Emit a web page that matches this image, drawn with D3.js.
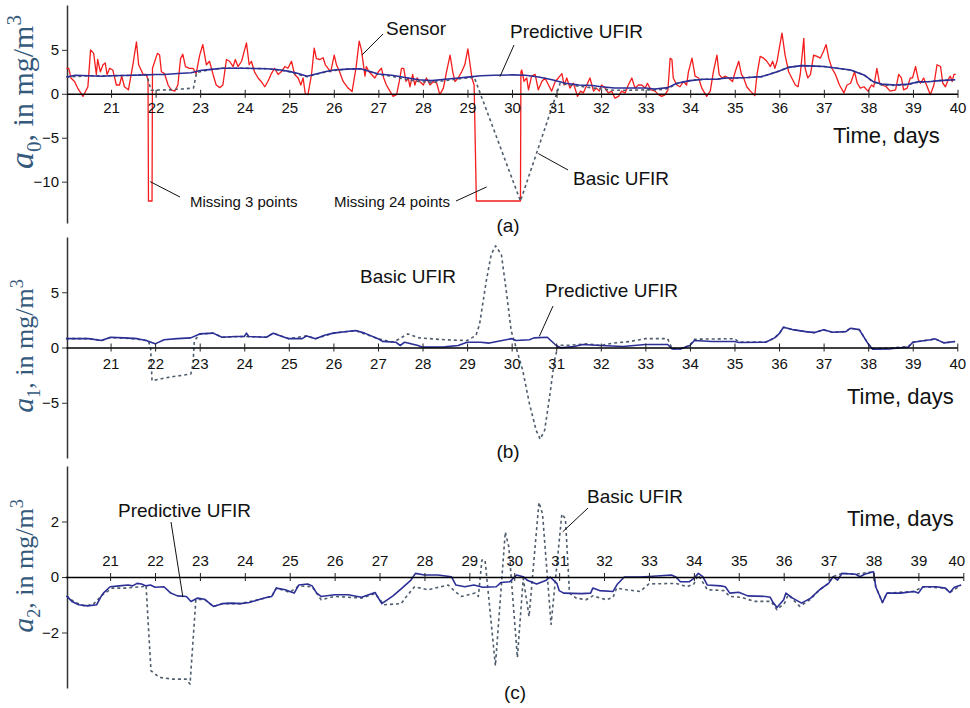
<!DOCTYPE html>
<meta charset="utf-8">
<style>
body { margin: 0; background: #fff; }
svg { font-family: "Liberation Sans", Arial, sans-serif; }
.ann { font-size: 19px; fill: #111; }
.note { font-size: 15px; fill: #111; }
.ylab { font-family: "Liberation Serif", "Times New Roman", serif; fill: #355a7c; }
.leader { stroke: #111; stroke-width: 1; fill: none; }
</style>
<body>
<script src="https://cdn.jsdelivr.net/npm/d3@7"></script>
<script>

// ---- data: [day, value] ----
var sensorA0 = [[20.0,2.9],[20.05,2.9],[20.1,1.8],[20.18,1.4],[20.25,0.65],[20.37,-0.3],[20.48,0.8],[20.54,5.0],[20.61,4.6],[20.67,2.2],[20.7,3.9],[20.76,2.5],[20.82,3.3],[20.87,3.5],[20.91,2.2],[20.97,2.9],[21.04,2.7],[21.12,1.0],[21.19,1.0],[21.24,2.0],[21.3,0.8],[21.39,0.45],[21.49,3.3],[21.57,5.9],[21.62,3.3],[21.72,2.2],[21.79,2.2],[21.83,1.6],[21.84,-12.2],[21.92,-12.2],[21.93,2.9],[22.04,4.6],[22.09,4.4],[22.13,2.5],[22.2,2.3],[22.28,1.0],[22.35,0.45],[22.43,0.3],[22.5,1.0],[22.56,4.0],[22.61,4.5],[22.67,3.1],[22.76,2.9],[22.84,2.9],[22.91,2.3],[22.99,4.4],[23.06,5.6],[23.14,3.3],[23.21,3.7],[23.29,2.2],[23.36,1.0],[23.44,0.7],[23.51,1.0],[23.59,3.9],[23.66,3.7],[23.74,3.1],[23.79,3.9],[23.85,3.1],[23.93,3.7],[24.04,5.8],[24.1,3.3],[24.15,3.7],[24.22,2.5],[24.3,1.8],[24.37,1.4],[24.45,0.8],[24.52,1.4],[24.6,2.3],[24.67,2.9],[24.75,2.2],[24.82,2.5],[24.9,3.1],[24.97,2.9],[25.05,3.7],[25.12,2.2],[25.2,1.8],[25.26,1.0],[25.31,1.8],[25.36,0.0],[25.42,-0.1],[25.5,2.2],[25.56,5.2],[25.61,4.0],[25.69,3.9],[25.76,4.1],[25.81,3.3],[25.87,2.9],[25.93,2.5],[26.01,4.4],[26.06,3.3],[26.13,2.5],[26.21,1.4],[26.32,0.65],[26.41,0.25],[26.5,3.0],[26.57,6.0],[26.62,5.0],[26.7,2.0],[26.73,3.1],[26.79,2.5],[26.85,2.2],[26.92,1.8],[27.0,2.5],[27.07,2.9],[27.12,1.8],[27.18,1.0],[27.26,0.3],[27.33,-0.3],[27.41,-0.1],[27.47,1.4],[27.52,2.9],[27.57,2.9],[27.62,1.4],[27.67,1.8],[27.71,0.8],[27.77,2.2],[27.82,1.0],[27.87,1.8],[27.93,1.4],[28.01,1.0],[28.08,1.8],[28.16,1.0],[28.23,1.4],[28.31,1.2],[28.38,-0.1],[28.46,0.65],[28.53,2.5],[28.61,4.4],[28.67,2.5],[28.72,1.4],[28.79,1.8],[28.87,2.5],[28.94,3.3],[29.01,5.1],[29.06,3.3],[29.1,1.8],[29.15,1.0],[29.2,-12.2],[30.19,-12.2],[30.2,2.5],[30.22,2.7],[30.27,1.4],[30.33,1.8],[30.37,0.45],[30.44,2.0],[30.52,2.2],[30.59,0.45],[30.67,1.4],[30.74,1.8],[30.82,1.0],[30.89,0.3],[30.97,1.4],[31.04,1.8],[31.12,2.3],[31.17,1.0],[31.23,1.8],[31.3,0.65],[31.38,1.2],[31.47,-0.3],[31.54,0.3],[31.6,0.1],[31.68,1.0],[31.75,1.8],[31.83,0.3],[31.89,0.65],[31.96,0.3],[32.01,1.0],[32.09,0.65],[32.16,0.1],[32.24,0.3],[32.31,-0.5],[32.39,-0.3],[32.46,0.3],[32.54,0.1],[32.61,1.0],[32.69,1.8],[32.76,0.65],[32.84,1.0],[32.91,1.0],[32.99,0.65],[33.04,1.2],[33.12,0.45],[33.21,0.3],[33.29,-0.1],[33.36,-0.3],[33.44,-0.1],[33.5,0.45],[33.55,4.05],[33.59,3.9],[33.62,1.8],[33.7,1.0],[33.77,0.8],[33.85,1.4],[33.92,1.0],[33.96,2.5],[34.04,4.05],[34.11,2.0],[34.19,1.8],[34.26,0.65],[34.37,-0.3],[34.45,0.3],[34.52,2.5],[34.6,4.4],[34.65,2.2],[34.71,1.8],[34.79,2.0],[34.86,1.8],[34.95,1.4],[35.01,2.5],[35.09,3.7],[35.15,2.2],[35.2,1.8],[35.27,0.8],[35.35,0.3],[35.45,-0.2],[35.5,2.2],[35.57,4.25],[35.65,4.05],[35.72,3.7],[35.8,3.1],[35.85,3.7],[35.9,2.9],[35.95,3.7],[36.0,5.2],[36.06,6.9],[36.13,4.4],[36.21,2.5],[36.28,1.8],[36.36,1.0],[36.42,0.8],[36.47,2.2],[36.55,6.3],[36.58,2.9],[36.64,1.8],[36.7,2.2],[36.77,4.4],[36.85,4.25],[36.92,4.05],[36.99,4.8],[37.05,5.6],[37.11,4.05],[37.18,2.9],[37.26,2.2],[37.35,1.0],[37.45,0.1],[37.52,1.0],[37.6,1.2],[37.69,2.5],[37.75,1.2],[37.82,0.65],[37.9,0.8],[37.99,0.3],[38.07,1.0],[38.12,0.8],[38.19,2.9],[38.25,1.2],[38.31,1.0],[38.4,0.8],[38.49,0.3],[38.61,0.45],[38.68,2.2],[38.74,1.8],[38.79,0.45],[38.87,0.65],[38.94,1.8],[38.99,1.8],[39.06,3.1],[39.12,1.6],[39.17,1.2],[39.24,1.8],[39.32,0.8],[39.39,-0.1],[39.47,1.0],[39.54,3.3],[39.62,3.1],[39.67,1.2],[39.73,0.8],[39.79,1.6],[39.84,2.0],[39.88,1.4],[39.92,2.2],[39.96,2.2]];

var predA0 = [[20.0,1.9],[20.2,2.1],[20.5,2.05],[20.8,2.0],[21.0,2.05],[21.5,2.1],[21.8,2.15],[22.0,2.2],[22.2,2.2],[22.5,2.3],[22.8,2.4],[23.0,2.65],[23.2,2.75],[23.5,2.9],[24.0,2.9],[24.5,2.85],[24.8,2.7],[25.0,2.55],[25.2,2.3],[25.4,2.0],[25.6,2.25],[25.8,2.5],[26.0,2.7],[26.3,2.8],[26.6,2.85],[26.7,2.7],[27.0,2.25],[27.3,2.1],[27.6,1.85],[27.9,1.6],[28.2,1.5],[28.5,1.65],[28.8,1.8],[29.0,1.9],[29.3,2.05],[29.6,2.1],[30.0,2.15],[30.3,2.1],[30.6,1.9],[30.9,1.6],[31.2,1.2],[31.5,1.0],[31.8,0.95],[32.0,0.8],[32.3,0.65],[32.6,0.65],[33.0,0.65],[33.2,0.55],[33.5,0.7],[33.7,1.2],[34.0,1.5],[34.3,1.65],[34.6,1.65],[34.8,1.8],[35.0,1.8],[35.3,1.85],[35.6,1.95],[35.8,2.25],[36.0,2.6],[36.2,3.0],[36.5,3.2],[36.8,3.15],[37.0,3.1],[37.3,2.9],[37.6,2.7],[37.9,2.15],[38.1,1.4],[38.3,1.1],[38.6,1.0],[38.9,1.1],[39.1,1.35],[39.4,1.4],[39.6,1.5],[39.95,1.6]];

var basicA0 = [[20.0,1.9],[20.5,2.05],[21.0,2.05],[21.5,2.1],[21.8,2.15],[21.9,0.4],[22.3,0.45],[22.6,0.55],[22.85,0.65],[22.92,2.4],[23.2,2.75],[23.5,2.9],[24.0,2.9],[24.5,2.85],[24.8,2.7],[25.0,2.5],[25.2,2.2],[25.4,1.95],[25.6,2.2],[25.8,2.45],[26.0,2.65],[26.3,2.8],[26.6,2.85],[27.0,2.2],[27.3,2.0],[27.6,1.65],[27.9,1.4],[28.2,1.3],[28.5,1.5],[28.8,1.7],[29.0,1.8],[29.15,1.9],[30.19,-12.2],[31.08,1.2],[31.3,1.0],[31.6,0.8],[32.0,0.55],[32.3,0.4],[32.6,0.4],[33.0,0.45],[33.3,0.45],[33.5,0.6],[33.7,1.15],[34.0,1.5],[34.3,1.65],[34.6,1.65],[34.8,1.8],[35.0,1.8],[35.3,1.85],[35.6,1.95],[35.8,2.25],[36.0,2.6],[36.2,3.0],[36.5,3.2],[36.8,3.15],[37.0,3.1],[37.3,2.9],[37.6,2.7],[37.9,2.15],[38.1,1.35],[38.3,1.0],[38.6,0.95],[38.9,1.05],[39.1,1.3],[39.4,1.4],[39.6,1.5],[39.95,1.6]];

var predA1 = [[20.0,0.8],[20.5,0.8],[20.8,0.63],[21.0,0.93],[21.3,0.87],[21.6,0.8],[21.8,0.63],[22.0,0.33],[22.2,0.7],[22.5,0.8],[22.8,0.87],[23.0,1.23],[23.3,1.3],[23.5,0.93],[23.8,1.0],[24.0,1.0],[24.05,1.3],[24.1,1.0],[24.5,0.93],[24.65,1.3],[24.85,1.0],[25.0,0.8],[25.3,0.8],[25.4,1.05],[25.6,0.8],[25.8,1.1],[26.0,1.3],[26.3,1.45],[26.5,1.53],[26.7,1.3],[27.0,0.8],[27.1,0.55],[27.4,0.48],[27.5,0.18],[27.6,0.48],[27.9,0.18],[28.0,0.03],[28.5,0.06],[28.8,0.18],[29.0,0.48],[29.3,0.48],[29.5,0.4],[29.7,0.57],[30.0,0.8],[30.1,0.63],[30.4,0.7],[30.5,0.87],[30.8,0.93],[31.0,0.18],[31.1,-0.03],[31.4,0.09],[31.6,0.27],[32.0,0.18],[32.5,0.09],[33.0,0.27],[33.5,0.27],[33.6,-0.12],[33.8,-0.12],[34.0,0.18],[34.1,0.63],[34.5,0.54],[35.0,0.54],[35.1,0.45],[35.7,0.48],[35.9,0.87],[36.0,1.23],[36.1,1.83],[36.3,1.62],[36.6,1.44],[36.8,1.35],[37.0,1.6],[37.2,1.38],[37.5,1.44],[37.6,1.74],[37.8,1.62],[38.0,0.33],[38.1,-0.15],[38.5,-0.12],[38.9,0.03],[39.0,0.48],[39.4,0.7],[39.5,0.78],[39.7,0.42],[39.95,0.54]];

var basicA1 = [[20.0,0.8],[20.5,0.8],[20.8,0.65],[21.0,0.9],[21.5,0.8],[21.85,0.6],[21.9,-0.1],[21.93,-3.0],[22.3,-2.7],[22.8,-2.4],[22.85,-1.5],[22.88,0.6],[23.0,1.2],[23.3,1.3],[23.5,0.93],[24.0,1.0],[24.5,0.93],[24.65,1.3],[25.0,0.8],[25.4,1.05],[25.6,0.8],[26.0,1.3],[26.5,1.53],[27.0,0.8],[27.3,0.5],[27.4,0.6],[27.67,1.23],[27.93,0.87],[28.5,0.7],[29.0,0.63],[29.2,1.1],[29.28,2.1],[29.43,6.0],[29.54,8.4],[29.64,9.2],[29.77,8.4],[29.88,5.1],[29.99,1.5],[30.1,0.0],[30.25,-2.1],[30.4,-5.1],[30.55,-7.5],[30.64,-8.3],[30.74,-7.5],[30.85,-4.5],[30.96,-1.2],[31.04,0.2],[31.3,0.2],[31.68,0.33],[32.0,0.18],[32.28,0.4],[32.65,0.54],[33.0,0.8],[33.5,0.8],[33.6,-0.1],[33.8,-0.1],[34.0,0.2],[34.1,0.75],[35.0,0.8],[35.1,0.5],[35.7,0.5],[35.9,0.87],[36.0,1.23],[36.1,1.83],[36.3,1.62],[36.6,1.44],[36.8,1.35],[37.0,1.6],[37.2,1.38],[37.5,1.44],[37.6,1.74],[37.8,1.62],[38.0,0.33],[38.1,-0.1],[38.5,-0.05],[38.9,0.08],[39.0,0.48],[39.4,0.7],[39.5,0.78],[39.7,0.42],[39.95,0.54]];

var predA2 = [[20.03,-0.68],[20.15,-0.88],[20.3,-1.0],[20.5,-1.04],[20.7,-1.0],[20.8,-0.7],[20.85,-0.58],[21.0,-0.35],[21.2,-0.32],[21.4,-0.29],[21.5,-0.32],[21.6,-0.23],[21.7,-0.25],[21.8,-0.32],[21.9,-0.29],[22.0,-0.37],[22.2,-0.35],[22.35,-0.58],[22.5,-0.68],[22.7,-0.7],[22.8,-0.88],[22.95,-0.76],[23.1,-0.8],[23.3,-1.06],[23.5,-0.96],[23.7,-0.94],[23.9,-0.96],[24.1,-0.92],[24.3,-0.82],[24.5,-0.73],[24.6,-0.7],[24.7,-0.4],[24.9,-0.46],[25.0,-0.52],[25.1,-0.58],[25.2,-0.29],[25.4,-0.25],[25.5,-0.32],[25.6,-0.58],[25.7,-0.7],[26.0,-0.64],[26.3,-0.64],[26.6,-0.73],[26.9,-0.56],[27.05,-0.96],[27.3,-0.68],[27.5,-0.4],[27.7,-0.11],[27.8,0.13],[28.0,0.07],[28.3,0.07],[28.6,0.01],[28.7,-0.29],[28.9,-0.35],[29.1,-0.29],[29.3,-0.37],[29.6,-0.35],[29.7,-0.2],[29.9,-0.17],[30.05,0.07],[30.2,0.01],[30.3,-0.13],[30.5,-0.25],[30.7,-0.13],[30.8,0.0],[30.95,-0.23],[31.0,-0.49],[31.1,-0.58],[31.5,-0.6],[31.7,-0.58],[31.75,-0.4],[31.9,-0.49],[32.2,-0.52],[32.3,-0.25],[32.45,0.0],[32.8,0.0],[33.0,0.02],[33.5,0.07],[33.6,0.0],[33.7,-0.17],[33.9,-0.17],[34.0,-0.05],[34.1,0.13],[34.2,0.01],[34.3,-0.29],[34.6,-0.32],[34.7,-0.35],[34.8,-0.58],[35.0,-0.55],[35.2,-0.68],[35.6,-0.7],[35.7,-0.73],[35.75,-0.88],[35.85,-1.1],[36.0,-0.82],[36.05,-0.58],[36.2,-0.76],[36.4,-0.94],[36.6,-0.76],[36.8,-0.46],[37.0,-0.23],[37.1,0.01],[37.2,-0.11],[37.3,0.13],[37.6,0.1],[37.7,0.01],[37.8,0.1],[38.0,0.19],[38.05,-0.35],[38.2,-0.92],[38.3,-0.58],[38.6,-0.58],[38.9,-0.52],[39.0,-0.58],[39.1,-0.35],[39.4,-0.35],[39.6,-0.4],[39.7,-0.56],[39.8,-0.37],[39.95,-0.29]];

var basicA2 = [[20.03,-0.68],[20.2,-0.9],[20.45,-1.06],[20.64,-0.96],[20.83,-0.64],[21.05,-0.4],[21.35,-0.4],[21.72,-0.35],[21.8,-0.3],[21.91,-3.38],[22.1,-3.62],[22.4,-3.68],[22.69,-3.68],[22.78,-3.86],[22.91,-0.82],[23.1,-0.8],[23.3,-1.06],[23.5,-0.96],[23.9,-0.96],[24.3,-0.82],[24.6,-0.7],[24.7,-0.4],[25.0,-0.55],[25.2,-0.32],[25.5,-0.35],[25.7,-0.82],[26.0,-0.7],[26.6,-0.76],[26.9,-0.6],[27.1,-1.0],[27.48,-0.96],[27.6,-0.7],[27.78,-0.35],[28.08,-0.46],[28.53,-0.29],[28.68,-0.52],[28.83,-0.7],[29.13,-0.58],[29.2,-0.7],[29.28,0.61],[29.35,0.61],[29.58,-3.2],[29.8,1.62],[29.88,1.08],[30.07,-2.9],[30.2,-0.05],[30.33,-1.42],[30.55,2.69],[30.63,2.27],[30.82,-1.71],[31.06,2.27],[31.14,2.1],[31.23,-0.58],[31.38,-0.76],[31.6,-0.82],[31.75,-0.68],[32.05,-0.82],[32.2,-0.73],[32.28,-0.4],[32.5,-0.46],[32.8,-0.52],[33.0,-0.25],[33.6,-0.23],[33.85,-0.35],[34.0,-0.25],[34.1,0.07],[34.3,-0.46],[34.67,-0.49],[34.8,-0.7],[35.05,-0.73],[35.35,-0.88],[35.72,-0.88],[35.85,-1.18],[36.02,-0.94],[36.1,-0.64],[36.36,-1.06],[36.6,-0.8],[36.8,-0.46],[37.0,-0.23],[37.1,0.01],[37.3,0.13],[37.6,0.1],[38.0,0.19],[38.05,-0.35],[38.2,-0.92],[38.3,-0.58],[38.9,-0.52],[39.1,-0.35],[39.6,-0.4],[39.7,-0.56],[39.95,-0.29]];

var dayTicks = d3.range(21, 41);

// ---- layout of the three panels ----
var panels = [
  { sub: "0", xr: [66.5, 957.5], yd: [-14.7, 10.1], yr: [223, 5], yticks: [-10, -5, 0, 5],
    top: false, pad: 5, labY: 92, labSize: 30, letter: "(a)", letterX: 508, letterY: 232, timeX: 833, timeY: 143,
    series: [ {d: sensorA0, c: "#f41c1c", w: 1.3}, {d: basicA0, c: "#4e5c6c", w: 1.6, dash: "3,3"}, {d: predA0, c: "#2b2f96", w: 1.6} ] },
  { sub: "1", xr: [66, 957.3], yd: [-10, 10], yr: [458, 237], yticks: [-5, 0, 5],
    top: false, pad: 7, labY: 346, labSize: 26, letter: "(b)", letterX: 508, letterY: 458, timeX: 847, timeY: 404,
    series: [ {d: basicA1, c: "#4e5c6c", w: 1.6, dash: "3,3"}, {d: predA1, c: "#2b2f96", w: 1.6} ] },
  { sub: "2", xr: [65.2, 963.3], yd: [-4, 4], yr: [688, 466], yticks: [-2, 0, 2],
    top: true, pad: 7, labY: 566, labSize: 26, letter: "(c)", letterX: 515, letterY: 699, timeX: 847, timeY: 526,
    series: [ {d: basicA2, c: "#4e5c6c", w: 1.6, dash: "3,3"}, {d: predA2, c: "#2b2f96", w: 1.6} ] }
];

var svg = d3.select("body").append("svg")
  .attr("width", 970)
  .attr("height", 708);

var scales = [];

panels.forEach(function(p) {
  var x = d3.scaleLinear().domain([20, 40]).range(p.xr);
  var y = d3.scaleLinear().domain(p.yd).range(p.yr);
  scales.push({x: x, y: y});
  var g = svg.append("g");

  var line = d3.line()
    .x(function(d) { return x(d[0]); })
    .y(function(d) { return y(d[1]); });

  // y axis
  var ya = g.append("g")
    .attr("transform", "translate(67,0)")
    .call(d3.axisLeft(y).tickValues(p.yticks).tickSize(5).tickSizeOuter(0).tickPadding(3))
    .attr("font-size", 15)
    .attr("font-family", "Liberation Sans, Arial, sans-serif");
  ya.select(".domain").attr("stroke", "#333").attr("stroke-width", 1.5);
  ya.selectAll(".tick line").attr("stroke", "#333");
  ya.selectAll(".tick text").attr("fill", "#111");

  // series
  p.series.forEach(function(s) {
    g.append("path")
      .datum(s.d)
      .attr("d", line)
      .attr("fill", "none")
      .attr("stroke", s.c)
      .attr("stroke-width", s.w)
      .attr("stroke-dasharray", s.dash || null)
      .attr("stroke-linejoin", "round");
  });

  // x axis through zero, ticks cross the line
  var xAxis = p.top ? d3.axisTop(x) : d3.axisBottom(x);
  var xa = g.append("g")
    .attr("transform", "translate(0," + y(0) + ")")
    .call(xAxis.tickValues(dayTicks).tickSize(4).tickSizeOuter(0).tickPadding(p.pad).tickFormat(d3.format("d")))
    .attr("font-size", 15)
    .attr("font-family", "Liberation Sans, Arial, sans-serif");
  xa.select(".domain").attr("stroke", "#000").attr("stroke-width", 1.5);
  xa.selectAll(".tick line").attr("y1", -4).attr("y2", 4).attr("stroke", "#222");
  xa.selectAll(".tick text").attr("fill", "#111")
    .attr("dx", function(d) { return (d === 40 && p.top) ? -7 : null; });

  // y label: a_k, in mg/m^3
  var lab = g.append("text")
    .attr("class", "ylab")
    .attr("transform", "translate(33," + p.labY + ") rotate(-90)")
    .attr("text-anchor", "middle")
    .attr("font-size", p.labSize);
  lab.append("tspan").attr("font-style", "italic").attr("font-size", p.labSize + 4).text("a");
  lab.append("tspan").attr("font-size", p.labSize * 0.7).attr("dy", p.labSize * 0.25).text(p.sub);
  lab.append("tspan").attr("dy", -p.labSize * 0.25).text(", in mg/m");
  lab.append("tspan").attr("font-size", p.labSize * 0.7).attr("dy", -p.labSize * 0.4).text("3");

  g.append("text").attr("class", "ann").attr("x", p.timeX).attr("y", p.timeY)
    .style("font-size", "22px").text("Time, days");
  g.append("text").attr("class", "ann").attr("x", p.letterX).attr("y", p.letterY)
    .attr("text-anchor", "middle").text(p.letter);
});

// ---- callouts: text in pixels, pointer end on the curve ----
var callouts = [
  {panel: 0, text: "Sensor", cls: "ann", tx: 386, ty: 35, lx: 383, ly: 34, day: 26.63, val: 4.4},
  {panel: 0, text: "Predictive UFIR", cls: "ann", tx: 510, ty: 38, lx: 514, ly: 45, day: 29.73, val: 1.95},
  {panel: 0, text: "Basic UFIR", cls: "ann", tx: 573, ty: 185, lx: 568, ly: 170, day: 30.59, val: -6.8},
  {panel: 0, text: "Missing 3 points", cls: "note", tx: 190, ty: 207, lx: 180, ly: 197, day: 21.88, val: -10.0},
  {panel: 0, text: "Missing 24 points", cls: "note", tx: 334, ty: 207, lx: 456, ly: 201, day: 29.43, val: -10.6},
  {panel: 1, text: "Basic UFIR", cls: "ann", tx: 360, ty: 283, lx: null},
  {panel: 1, text: "Predictive UFIR", cls: "ann", tx: 545, ty: 297, lx: 553, ly: 306, day: 30.62, val: 1.0},
  {panel: 2, text: "Predictive UFIR", cls: "ann", tx: 118, ty: 517, lx: 171, ly: 522, day: 22.62, val: -0.72},
  {panel: 2, text: "Basic UFIR", cls: "ann", tx: 587, ty: 503, lx: 588, ly: 508, day: 31.08, val: 1.63}
];

callouts.forEach(function(c) {
  var s = scales[c.panel];
  if (c.lx !== null) {
    svg.append("line").attr("class", "leader")
      .attr("x1", c.lx).attr("y1", c.ly)
      .attr("x2", s.x(c.day)).attr("y2", s.y(c.val));
  }
  svg.append("text").attr("class", c.cls).attr("x", c.tx).attr("y", c.ty).text(c.text);
});

</script>
